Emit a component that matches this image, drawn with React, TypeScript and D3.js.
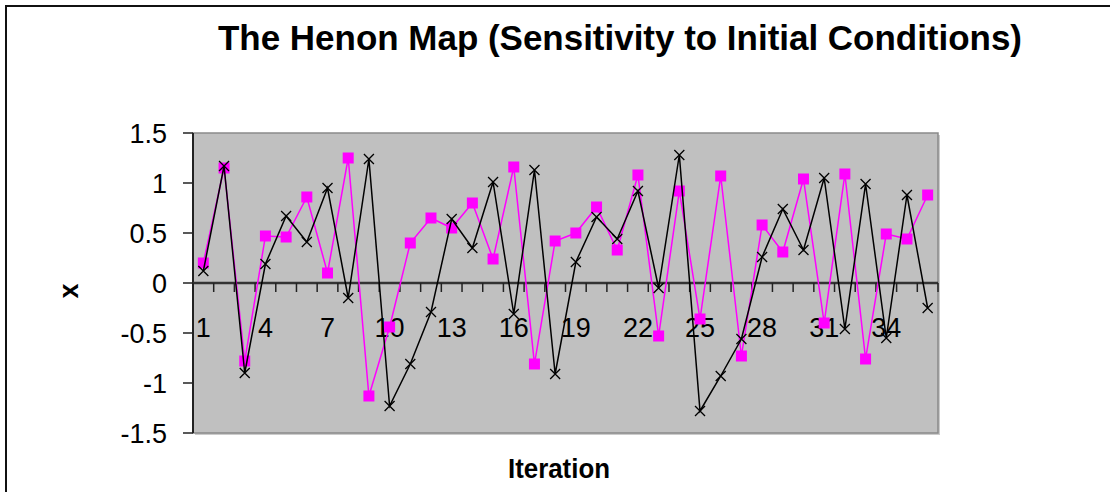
import React from "react";
import * as d3 from "d3";

const iterations = d3.range(1, 37);
const pinkSeries = [
  0.2, 1.15, -0.78, 0.47, 0.46, 0.86, 0.1, 1.25, -1.13, -0.44, 0.4, 0.65,
  0.55, 0.8, 0.24, 1.16, -0.81, 0.42, 0.5, 0.76, 0.33, 1.08, -0.53, 0.92,
  -0.36, 1.07, -0.73, 0.58, 0.31, 1.04, -0.4, 1.09, -0.76, 0.49, 0.44, 0.88,
];
const blackSeries = [
  0.12, 1.17, -0.9, 0.19, 0.67, 0.41, 0.95, -0.15, 1.24, -1.23, -0.81, -0.29,
  0.64, 0.35, 1.01, -0.31, 1.13, -0.91, 0.21, 0.66, 0.44, 0.92, -0.05, 1.28,
  -1.28, -0.93, -0.56, 0.26, 0.74, 0.33, 1.05, -0.46, 0.99, -0.55, 0.88, -0.25,
];
const yTicks = [1.5, 1, 0.5, 0, -0.5, -1, -1.5];
const xLabelEvery = 3;
const title = "The Henon Map (Sensitivity to Initial Conditions)";

const W = 1110;
const H = 492;
const plot = { left: 193, top: 133, right: 938, bottom: 433 };

export default function App() {
  const x = d3
    .scaleBand<number>()
    .domain(iterations)
    .range([plot.left, plot.right]);
  const y = d3.scaleLinear().domain([-1.5, 1.5]).range([plot.bottom, plot.top]);
  const cx = (i: number) => (x(i) as number) + x.bandwidth() / 2;
  const line = d3
    .line<number>()
    .x((_, i) => cx(iterations[i]))
    .y((d) => y(d));
  const y0 = y(0);
  const font = "Arial, 'Liberation Sans', sans-serif";
  const boundaries = iterations.map((i) => x(i) as number).concat([plot.right]);

  return (
    <svg
      width={W}
      height={H}
      style={{ position: "absolute", left: 0, top: 0, background: "#fff" }}
      fontFamily={font}
    >
      {/* outer chart border */}
      <path d={`M6,${H + 5} V6 H${W + 5}`} fill="none" stroke="#111" strokeWidth={2} />

      {/* title */}
      <text
        x={620}
        y={50}
        textAnchor="middle"
        fontWeight="bold"
        fontSize={35}
        textLength={804}
        lengthAdjust="spacingAndGlyphs"
        fill="#000"
      >
        {title}
      </text>

      {/* plot area with shadow */}
      <rect
        x={plot.left + 2}
        y={plot.top + 2}
        width={plot.right - plot.left}
        height={plot.bottom - plot.top}
        fill="#a8a8a8"
        opacity={0.6}
      />
      <rect
        x={plot.left}
        y={plot.top}
        width={plot.right - plot.left}
        height={plot.bottom - plot.top}
        fill="#c0c0c0"
        stroke="#8a8a8a"
        strokeWidth={1.5}
      />

      {/* y axis */}
      <line x1={plot.left} x2={plot.left} y1={plot.top} y2={plot.bottom} stroke="#222" strokeWidth={2} />
      {yTicks.map((t) => (
        <g key={t}>
          <line x1={plot.left - 10} x2={plot.left} y1={y(t)} y2={y(t)} stroke="#222" strokeWidth={1.5} />
          <text
            x={167}
            y={y(t)}
            dy="0.36em"
            textAnchor="end"
            fontSize={27}
            fill="#000"
          >
            {t === 0 ? "0" : String(t)}
          </text>
        </g>
      ))}

      {/* x axis at zero */}
      <line x1={plot.left} x2={plot.right} y1={y0} y2={y0} stroke="#333" strokeWidth={2.5} />
      {boundaries.map((b, k) => (
        <line key={k} x1={b} x2={b} y1={y0} y2={y0 + 9} stroke="#222" strokeWidth={1.5} />
      ))}
      {iterations
        .filter((i) => (i - 1) % xLabelEvery === 0)
        .map((i) => (
          <text key={i} x={cx(i)} y={337} textAnchor="middle" fontSize={27} fill="#000">
            {i}
          </text>
        ))}

      {/* pink series */}
      <path d={line(pinkSeries) || ""} fill="none" stroke="#ff00ff" strokeWidth={1.5} />
      {pinkSeries.map((v, k) => (
        <rect
          key={k}
          x={cx(iterations[k]) - 5.5}
          y={y(v) - 5.5}
          width={11}
          height={11}
          fill="#ff00ff"
        />
      ))}

      {/* black series */}
      <path d={line(blackSeries) || ""} fill="none" stroke="#000" strokeWidth={1.5} />
      {blackSeries.map((v, k) => {
        const px = cx(iterations[k]);
        const py = y(v);
        const s = 5;
        return (
          <path
            key={k}
            d={`M${px - s},${py - s}L${px + s},${py + s}M${px - s},${py + s}L${px + s},${py - s}`}
            stroke="#000"
            strokeWidth={1.3}
          />
        );
      })}

      {/* axis titles */}
      <text
        transform={`translate(68,291) rotate(-90)`}
        textAnchor="middle"
        dy="0.36em"
        fontWeight="bold"
        fontSize={27}
        fill="#000"
      >
        x
      </text>
      <text
        x={559}
        y={478}
        textAnchor="middle"
        fontWeight="bold"
        fontSize={27}
        textLength={102}
        lengthAdjust="spacingAndGlyphs"
        fill="#000"
      >
        Iteration
      </text>
    </svg>
  );
}
